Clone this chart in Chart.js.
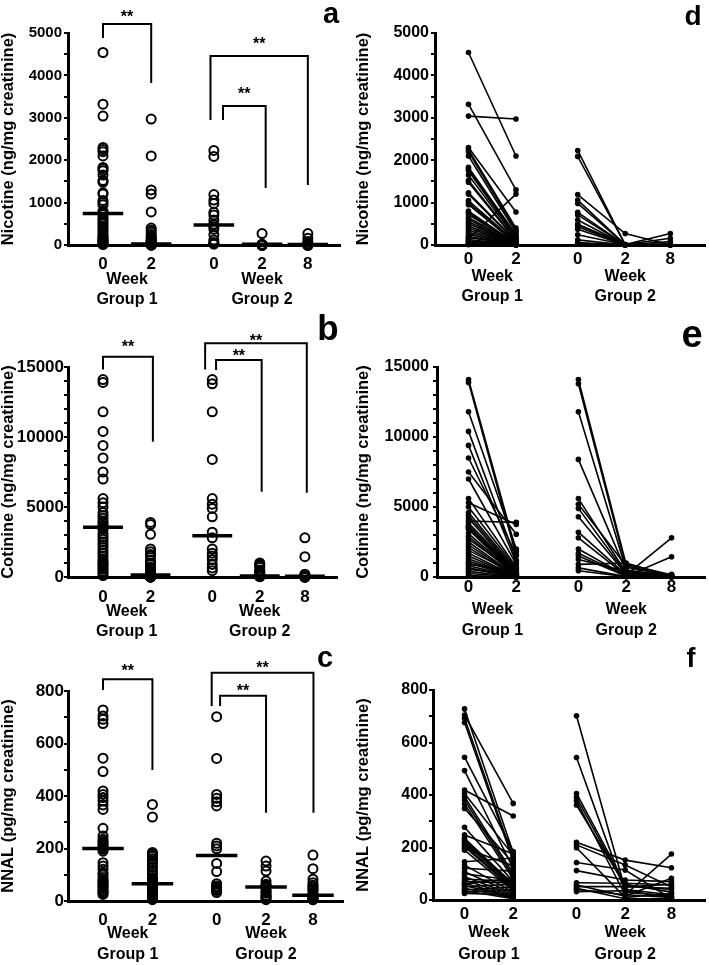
<!DOCTYPE html>
<html>
<head>
<meta charset="utf-8">
<script src="https://cdn.jsdelivr.net/npm/chart.js@4.4.0/dist/chart.umd.min.js"></script>
<style>
  html, body { margin: 0; padding: 0; background: #fff; }
  body { position: relative; width: 709px; height: 965px; overflow: hidden; }
  canvas { position: absolute; }
</style>
</head>
<body>
<canvas id="pa"></canvas>
<canvas id="pb"></canvas>
<canvas id="pc"></canvas>
<canvas id="pd"></canvas>
<canvas id="pe"></canvas>
<canvas id="pf"></canvas>
<script>
(() => {
  'use strict'

  // x positions of the five columns: Group 1 week 0, 2 / Group 2 week 0, 2, 8
  const colX = [0, 1, 2.3, 3.3, 4.25]
  const weekLabels = ['0', '2', '0', '2', '8']
  const groupLabels = ['Group 1', 'Group 2']

  // Nicotine (ng/mg creatinine), one entry per subject
  const nicG1w0 = [4540, 3320, 3040, 2300, 2250, 2200, 2100, 1830, 1800, 1750, 1650, 1520, 1480, 1230, 1200, 1050, 1000, 950, 800, 760, 720, 650, 600, 550, 500, 450, 400, 350, 300, 250, 200, 180, 150, 130, 100, 80, 60, 40, 20, 10]
  const nicG1w2 = [2100, 1300, 2970, 780, 400, 350, 300, 250, 200, 180, 150, 120, 100, 90, 80, 60, 50, 40, 30, 30, 25, 20, 20, 15, 15, 10, 10, 10, 5, 5, 5, 5, 1200, 3, 3, 2, 2, 1, 1, 0]
  const nicG2w0 = [2230, 2090, 1190, 1060, 980, 770, 710, 590, 490, 480, 430, 370, 240, 120, 60, 40, 20]
  const nicG2w2 = [10, 5, 270, 10, 5, 5, 0, 0, 10, 5, 0, 0, 5, 0, 0, 0, 0]
  const nicG2w8 = [10, 5, 0, 160, 80, 10, 5, 0, 270, 5, 0, 0, 5, 0, 30, 0, 0]
  const nicMedians = [740, 25, 470, 15, 10]
  const nicTicks = [0, 1000, 2000, 3000, 4000, 5000]
  // brackets: [x1, y1 end, y top, x2, y2 end, y of stars]
  const nicBrackets = [
    [0, 4880, 5210, 1, 3820, 5470],
    [2.23, 2950, 4460, 4.25, 1415, 4840],
    [2.49, 2950, 3280, 3.375, 1345, 3660]
  ]

  // Cotinine (ng/mg creatinine)
  const cotG1w0 = [14100, 13900, 11800, 10400, 9400, 8500, 7500, 7000, 5600, 5300, 5000, 4600, 4400, 4200, 4000, 3850, 3700, 3600, 3550, 3500, 3400, 3100, 2900, 2700, 2500, 2300, 2100, 1900, 1700, 1500, 1300, 1150, 1000, 900, 800, 650, 550, 400, 250, 100]
  const cotG1w2 = [1800, 1500, 2000, 1200, 1000, 1600, 3050, 900, 700, 3750, 600, 500, 400, 300, 3900, 350, 250, 200, 180, 150, 100, 120, 80, 300, 60, 50, 40, 200, 30, 25, 20, 15, 10, 500, 8, 5, 100, 3, 2, 1]
  const cotG2w0 = [14100, 13800, 11800, 8400, 5600, 5200, 4900, 4300, 3200, 2800, 2000, 1700, 1500, 1250, 900, 650, 450]
  const cotG2w2 = [900, 700, 500, 400, 300, 800, 250, 200, 150, 100, 80, 60, 50, 400, 1000, 30, 20]
  const cotG2w8 = [150, 100, 80, 60, 200, 40, 30, 20, 2800, 10, 5, 1450, 5, 0, 50, 0, 0]
  const cotMedians = [3550, 150, 2950, 80, 50]
  const cotTicks = [0, 5000, 10000, 15000]
  const cotBrackets = [
    [0, 14830, 15740, 1.05, 9660, 16690],
    [2.15, 14830, 16690, 4.29, 6020, 17120],
    [2.38, 14790, 15500, 3.34, 6090, 16090]
  ]

  // NNAL (pg/mg creatinine)
  const nnalG1w0 = [728, 705, 692, 676, 544, 493, 419, 406, 394, 381, 366, 349, 277, 248, 235, 228, 222, 215, 210, 203, 197, 190, 146, 133, 121, 108, 100, 89, 80, 76, 70, 64, 60, 55, 51, 45, 38, 35, 30, 25]
  const nnalG1w2 = [180, 368, 160, 150, 185, 120, 320, 170, 100, 90, 80, 140, 70, 175, 60, 55, 50, 65, 45, 40, 130, 35, 160, 30, 110, 25, 75, 20, 70, 15, 65, 12, 85, 10, 60, 8, 50, 5, 40, 20]
  const nnalG2w0 = [702, 543, 406, 391, 378, 362, 220, 210, 199, 143, 112, 66, 57, 51, 40, 32, 45]
  const nnalG2w2 = [40, 30, 60, 50, 20, 55, 152, 133, 10, 114, 76, 64, 15, 51, 20, 35, 5]
  const nnalG2w8 = [20, 15, 30, 60, 10, 40, 123, 50, 25, 5, 70, 57, 83, 45, 175, 10, 5]
  const nnalMedians = [200, 66, 173, 53, 22]
  const nnalTicks = [0, 200, 400, 600, 800]
  const nnalBrackets = [
    [0, 804, 845, 1, 499, 893],
    [2.2, 743, 870, 4.26, 336, 902],
    [2.37, 743, 782, 3.3, 336, 817]
  ]

  const FONT = '"Liberation Sans", Arial, Helvetica, sans-serif'
  Chart.defaults.font.family = FONT
  Chart.defaults.font.weight = 'bold'
  Chart.defaults.color = '#000'

  // extra canvas height below each panel so the group labels are not cut off
  const EXTRA = 30

  const sets = {
    nic: { title: 'Nicotine (ng/mg creatinine)', max: 5000, minor: 500, ticks: nicTicks,
      cols: [nicG1w0, nicG1w2, nicG2w0, nicG2w2, nicG2w8], medians: nicMedians, brackets: nicBrackets },
    cot: { title: 'Cotinine (ng/mg creatinine)', max: 15000, minor: 1000, ticks: cotTicks,
      cols: [cotG1w0, cotG1w2, cotG2w0, cotG2w2, cotG2w8], medians: cotMedians, brackets: cotBrackets },
    nnal: { title: 'NNAL (pg/mg creatinine)', max: 800, minor: 100, ticks: nnalTicks,
      cols: [nnalG1w0, nnalG1w2, nnalG2w0, nnalG2w2, nnalG2w8], medians: nnalMedians, brackets: nnalBrackets }
  }

  const panels = [
    { id: 'pa', set: 'nic', kind: 'dots', left: 0, top: 0, w: 355, h: 310, L: 68, R: 340, yTop: 33, y0: 245,
      xmin: -0.726, xmax: 4.917, xPad: 9, yPad: 2, yFont: 15, weekDy: 35, groupDy: 55, letter: 'a', lx: 331, ly: 23, ls: 29 },
    { id: 'pb', set: 'cot', kind: 'dots', left: 0, top: 310, w: 355, h: 320, L: 68, R: 337, yTop: 367, y0: 577,
      xmin: -0.737, xmax: 4.926, xPad: 10, yPad: 0, yFont: 17, weekDy: 35, groupDy: 55, letter: 'b', lx: 328, ly: 340, ls: 35 },
    { id: 'pc', set: 'nnal', kind: 'dots', left: 0, top: 630, w: 355, h: 335, L: 68, R: 343, yTop: 691, y0: 901,
      xmin: -0.709, xmax: 4.858, xPad: 9, yPad: 0, yFont: 17, weekDy: 33, groupDy: 54, letter: 'c', lx: 325, ly: 667, ls: 29 },
    { id: 'pd', set: 'nic', kind: 'pairs', left: 355, top: 0, w: 354, h: 310, L: 435, R: 709, yTop: 33, y0: 245,
      xmin: -0.705, xmax: 4.98, xPad: 4, yPad: 2, yFont: 16, weekDy: 32, groupDy: 52, letter: 'd', lx: 693, ly: 25, ls: 28 },
    { id: 'pe', set: 'cot', kind: 'pairs', left: 355, top: 310, w: 354, h: 320, L: 437, R: 709, yTop: 367, y0: 577,
      xmin: -0.66, xmax: 4.95, xPad: 0, yPad: 4, yFont: 16, weekDy: 33, groupDy: 54, letter: 'e', lx: 692, ly: 347, ls: 38 },
    { id: 'pf', set: 'nnal', kind: 'pairs', left: 355, top: 630, w: 354, h: 335, L: 433, R: 709, yTop: 690, y0: 900,
      xmin: -0.648, xmax: 4.94, xPad: 4, yPad: 1, yFont: 16, weekDy: 33, groupDy: 55, letter: 'f', lx: 691, ly: 667, ls: 27 }
  ]

  function dotDatasets (s) {
    const ds = s.cols.map((vals, i) => ({
      type: 'scatter',
      data: vals.map(v => ({ x: colX[i], y: v })),
      pointRadius: 4.5,
      pointBorderWidth: 2,
      pointBorderColor: '#000',
      pointBackgroundColor: 'rgba(0,0,0,0)',
      showLine: false,
      clip: false,
      order: 2
    }))
    s.medians.forEach((m, i) => ds.push({
      type: 'line',
      data: [{ x: colX[i] - 0.42, y: m }, { x: colX[i] + 0.42, y: m }],
      borderColor: '#000',
      borderWidth: 3.5,
      pointRadius: 0,
      clip: false,
      order: 1
    }))
    s.brackets.forEach(b => ds.push({
      type: 'line',
      data: [{ x: b[0], y: b[1] }, { x: b[0], y: b[2] }, { x: b[3], y: b[2] }, { x: b[3], y: b[4] }],
      borderColor: '#000',
      borderWidth: 2,
      borderJoinStyle: 'miter',
      pointRadius: 0,
      clip: false,
      order: 1
    }))
    return ds
  }

  function pairLine (points) {
    return {
      type: 'line',
      data: points,
      borderColor: '#000',
      borderWidth: 1.6,
      pointRadius: 2.8,
      pointBorderWidth: 0,
      pointBackgroundColor: '#000',
      clip: false
    }
  }

  function pairDatasets (s) {
    const [a0, a2, b0, b2, b8] = s.cols
    const ds = []
    a0.forEach((v, i) => ds.push(pairLine([{ x: colX[0], y: v }, { x: colX[1], y: a2[i] }])))
    b0.forEach((v, i) => ds.push(pairLine([{ x: colX[2], y: v }, { x: colX[3], y: b2[i] }, { x: colX[4], y: b8[i] }])))
    return ds
  }

  function panelText (p, s) {
    return {
      id: 'panelText',
      afterDraw (chart) {
        const { ctx, chartArea, scales: { x, y } } = chart
        ctx.save()
        ctx.fillStyle = '#000'
        ctx.textAlign = 'center'
        ctx.textBaseline = 'middle'
        ctx.font = 'bold 16px ' + FONT
        const g1 = x.getPixelForValue((colX[0] + colX[1]) / 2)
        const g2 = x.getPixelForValue(colX[3])
        ctx.fillText('Week', g1, chartArea.bottom + p.weekDy)
        ctx.fillText('Week', g2, chartArea.bottom + p.weekDy)
        ctx.fillText(groupLabels[0], g1, chartArea.bottom + p.groupDy)
        ctx.fillText(groupLabels[1], g2, chartArea.bottom + p.groupDy)

        if (p.kind === 'dots') {
          ctx.font = 'bold 16px ' + FONT
          ctx.textBaseline = 'alphabetic'
          s.brackets.forEach(b => {
            const cx = x.getPixelForValue((b[0] + b[3]) / 2)
            const cy = y.getPixelForValue(b[5])
            ctx.fillText('**', cx, cy + 9)
          })
        }

        ctx.textBaseline = 'alphabetic'
        ctx.font = 'bold ' + p.ls + 'px ' + FONT
        ctx.fillText(p.letter, p.lx - p.left, p.ly - p.top)
        ctx.restore()
      }
    }
  }

  panels.forEach(p => {
    const s = sets[p.set]
    const canvas = document.getElementById(p.id)
    const h = p.h + EXTRA
    canvas.width = p.w
    canvas.height = h
    canvas.style.left = p.left + 'px'
    canvas.style.top = p.top + 'px'

    // eslint-disable-next-line no-new
    new Chart(canvas, {
      type: 'scatter',
      data: { datasets: p.kind === 'dots' ? dotDatasets(s) : pairDatasets(s) },
      options: {
        responsive: false,
        animation: false,
        events: [],
        layout: { padding: { left: 0, top: p.yTop - p.top, right: p.left + p.w - p.R, bottom: 0 } },
        plugins: { legend: { display: false }, tooltip: { enabled: false } },
        scales: {
          x: {
            type: 'linear',
            min: p.xmin,
            max: p.xmax,
            grid: { display: false, drawTicks: false },
            border: { display: true, color: '#000', width: 3 },
            ticks: {
              autoSkip: false,
              padding: p.xPad,
              color: '#000',
              font: { size: 17, weight: 'bold' },
              callback: v => {
                const i = colX.indexOf(v)
                return i >= 0 ? weekLabels[i] : ''
              }
            },
            afterBuildTicks: scale => { scale.ticks = colX.map(v => ({ value: v })) },
            afterFit: scale => { scale.height = p.top + h - p.y0 }
          },
          y: {
            type: 'linear',
            min: 0,
            max: s.max,
            grid: { drawOnChartArea: false, drawTicks: true, tickLength: 4, color: '#000', lineWidth: 2 },
            border: { display: true, color: '#000', width: 3 },
            ticks: {
              stepSize: s.minor,
              autoSkip: false,
              padding: p.yPad,
              color: '#000',
              font: { size: p.yFont, weight: 'bold' },
              callback: v => s.ticks.includes(v) ? String(v) : ''
            },
            title: {
              display: true,
              text: s.title,
              color: '#000',
              font: { size: 16.5, weight: 'bold', lineHeight: 1 },
              padding: { top: 0, bottom: 0 }
            },
            afterFit: scale => { scale.width = p.L - p.left }
          }
        }
      },
      plugins: [panelText(p, s)]
    })
  })
})()
</script>
</body>
</html>
